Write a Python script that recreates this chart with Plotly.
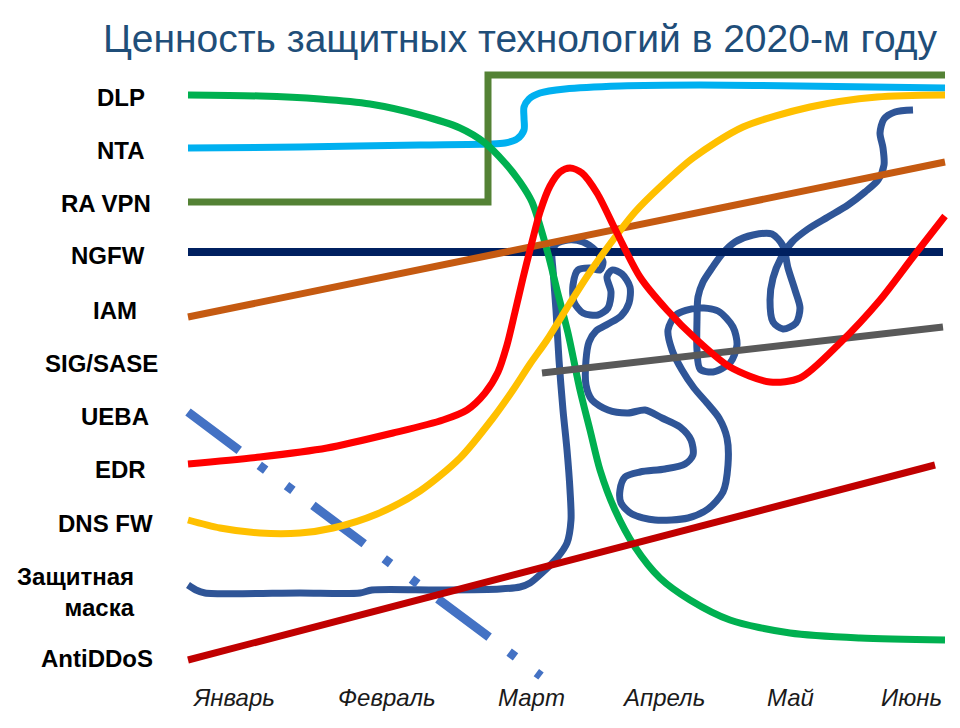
import plotly.graph_objects as go

# ---- axis labels -------------------------------------------------------
MONTHS = ["Январь", "Февраль", "Март", "Апрель", "Май", "Июнь"]
MONTH_POS = [4.5, 19.9, 34.3, 47.5, 60.2, 72.3]

TECH = ["DLP", "NTA", "RA VPN", "NGFW", "IAM", "SIG/SASE", "UEBA",
        "EDR", "DNS FW", "Защитная<br>маска", "AntiDDoS"]
TECH_LEVEL = [57.8, 52.5, 47.2, 42.0, 36.5, 31.2, 25.9, 20.6, 15.2, 8.3, 1.7]

# ---- series (time on x, perceived value on y) --------------------------
dlp_x = [0, 7.2, 13.2, 18.2, 23.2, 27.2, 29.7, 31.7, 33.2, 34.4, 35.9, 36.9,
         38.0, 39.2, 40.2, 41.2, 42.7, 44.7, 47.2, 50.2, 54.2, 60.2, 67.2, 75.7]
dlp_y = [58.0, 57.9, 57.6, 57.1, 56.0, 54.7, 53.2, 51.2, 49.3, 47.3, 42.5, 38.5,
         34.2, 28.5, 24.5, 20.5, 16.5, 12.8, 9.7, 7.5, 5.5, 4.2, 3.7, 3.5]

nta_x = [0, 11.2, 23.2, 30.0, 31.7, 32.9, 33.6, 33.6, 33.6, 34.1, 35.2, 37.7,
         43.2, 51.2, 61.2, 75.7]
nta_y = [52.7, 52.8, 53.0, 53.1, 53.2, 53.6, 54.5, 55.7, 56.8, 57.6, 58.2, 58.6,
         58.9, 59.0, 58.9, 58.7]

ravpn_x = [0, 30.0, 30.0, 75.7]
ravpn_y = [47.3, 47.3, 60.0, 60.0]

ngfw_x = [0, 75.5]
ngfw_y = [42.3, 42.3]

iam_x = [0, 75.7]
iam_y = [35.8, 51.3]

sig_x = [35.4, 75.5]
sig_y = [30.2, 34.8]

ueba_x = [0, 35.3]
ueba_y = [26.3, -0.1]

edr_x = [0, 7.2, 13.9, 20.5, 25.5, 27.9, 29.7, 31.0, 31.9, 32.7, 33.5, 34.2,
         35.2, 36.2, 37.2, 38.2, 39.4, 40.9, 42.9, 45.2, 47.9, 50.9, 54.2, 58.2,
         61.2, 65.2, 69.2, 72.5, 75.7]
edr_y = [21.1, 21.8, 22.7, 24.2, 25.5, 26.5, 28.2, 30.3, 33.0, 36.3, 39.7, 42.5,
         46.3, 48.9, 50.3, 50.7, 50.2, 48.2, 44.2, 39.8, 36.5, 33.5, 30.8, 29.3,
         29.7, 33.2, 37.5, 41.8, 45.9]

dnsfw_x = [0, 3.2, 7.2, 11.2, 14.5, 18.9, 23.2, 27.2, 30.5, 32.5, 34.2, 35.9,
           38.2, 40.2, 42.5, 44.7, 47.2, 50.5, 55.5, 62.2, 68.9, 75.7]
dnsfw_y = [15.5, 14.7, 14.2, 14.2, 14.7, 16.1, 18.4, 21.7, 25.7, 28.5, 31.1, 33.5,
           37.2, 40.3, 43.5, 46.3, 48.8, 51.7, 54.8, 56.8, 57.8, 58.0]

antiddos_x = [0, 74.7]
antiddos_y = [1.5, 21.0]

# protective mask: flat, then a sudden spike into a tangle
mask_x = [0.0, 0.8, 1.7, 11.2, 17.2, 18.4, 25.2, 31.2, 33.2, 34.2, 35.5, 36.9,
          37.9, 38.3, 38.2, 37.9, 37.5, 37.1, 36.8, 36.5, 36.4, 36.8, 38.0, 39.5,
          40.7, 41.5, 41.2, 40.2, 39.0, 38.5, 38.6, 39.5, 41.0, 42.0, 42.3, 41.9,
          42.4, 43.4, 44.2, 44.1, 43.3, 42.0, 40.8, 40.1, 39.8, 39.8, 40.4, 42.0,
          44.0, 45.7, 47.4, 49.2, 50.3, 50.5, 49.7, 47.7, 45.2, 43.7, 43.2, 43.3,
          44.4, 46.7, 50.0, 52.0, 53.5, 54.0, 53.9, 53.1, 51.9, 50.6, 49.4, 48.4,
          48.0, 48.8, 50.9, 53.0, 54.5, 54.9, 54.2, 52.5, 51.2, 50.9, 50.9, 51.0,
          51.5, 52.4, 53.5, 54.7, 56.5, 58.4, 59.5, 60.0, 60.7, 61.2, 60.8, 59.5,
          58.5, 58.2, 58.5, 59.3, 60.4, 62.0, 64.0, 66.0, 67.7, 69.0, 69.6, 69.5,
          69.2, 69.6, 70.7, 72.5]
mask_y = [9.0, 8.5, 8.2, 8.2, 8.2, 8.5, 8.5, 8.6, 8.8, 9.2, 10.3, 11.7,
          13.2, 15.5, 18.5, 22.5, 26.5, 31.5, 36.5, 40.5, 42.3, 43.1, 43.5, 43.3,
          42.5, 41.3, 40.5, 40.7, 40.5, 39.0, 37.3, 36.2, 36.0, 36.7, 38.3, 39.8,
          40.5, 40.1, 38.8, 37.2, 35.9, 35.1, 34.4, 33.3, 31.5, 29.0, 27.5, 26.5,
          26.2, 26.5, 25.7, 24.8, 23.5, 22.0, 21.1, 20.6, 20.3, 19.8, 18.5, 17.2,
          16.1, 15.5, 15.7, 16.6, 18.3, 21.0, 23.7, 25.7, 27.2, 28.7, 30.5, 32.5,
          34.5, 36.0, 36.7, 36.4, 34.8, 33.0, 31.2, 30.3, 30.6, 32.5, 35.5, 37.8,
          39.3, 40.7, 42.2, 43.3, 44.0, 44.1, 42.9, 40.7, 38.5, 36.7, 35.2, 34.6,
          35.3, 37.5, 39.7, 41.7, 43.3, 44.6, 45.8, 47.0, 48.3, 49.5, 51.0, 52.7,
          54.2, 55.6, 56.3, 56.5]

# ---- styling per series (drawing order = stacking order) ---------------
series = [
    (mask_x, mask_y, "#2F5597", 7, "spline", None),
    (ngfw_x, ngfw_y, "#002060", 8, "linear", None),
    (ueba_x, ueba_y, "#4472C4", 9, "linear", "64px,25px,8px,26px,8px,25px"),
    (nta_x, nta_y, "#00B0F0", 7, "spline", None),
    (ravpn_x, ravpn_y, "#548235", 7, "linear", None),
    (dlp_x, dlp_y, "#00B050", 7, "spline", None),
    (iam_x, iam_y, "#C55A11", 7, "linear", None),
    (sig_x, sig_y, "#595959", 7, "linear", None),
    (dnsfw_x, dnsfw_y, "#FFC000", 7, "spline", None),
    (edr_x, edr_y, "#FF0000", 7, "spline", None),
    (antiddos_x, antiddos_y, "#C00000", 7, "linear", None),
]

fig = go.Figure()
for xs, ys, color, width, shape, dash in series:
    line = dict(color=color, width=width, shape=shape)
    if shape == "spline":
        line["smoothing"] = 0.8
    if dash:
        line["dash"] = dash
    fig.add_trace(go.Scatter(x=xs, y=ys, mode="lines", line=line,
                             hoverinfo="skip", showlegend=False))

FONT = "Liberation Sans, Arial, sans-serif"

# technology names on the left, right edges in pixels
LABEL_RIGHT_PX = [147, 147, 153, 147, 139, 160, 151, 148, 155, 137, 155]
PLOT_LEFT = 178
for name, level, right in zip(TECH, TECH_LEVEL, LABEL_RIGHT_PX):
    fig.add_annotation(
        x=0, xref="paper", y=level, yref="y",
        text=f"<b>{name}</b>", showarrow=False,
        xanchor="right", yanchor="middle", align="right",
        xshift=right - PLOT_LEFT,
        font=dict(family=FONT, size=24, color="#000000"),
    )

# month names under the time axis
for month, pos in zip(MONTHS, MONTH_POS):
    fig.add_annotation(
        x=pos, xref="x", y=0, yref="paper",
        text=f"<i>{month}</i>", showarrow=False,
        xanchor="center", yanchor="middle", yshift=-12,
        font=dict(family=FONT, size=24, color="#1a1a1a"),
    )

fig.update_layout(
    width=960, height=728,
    margin=dict(l=PLOT_LEFT, r=12, t=45, b=43, autoexpand=False),
    paper_bgcolor="white", plot_bgcolor="white",
    title=dict(
        text="Ценность защитных технологий в 2020-м году",
        x=520 / 960, xanchor="center", y=1 - 38 / 728, yanchor="middle",
        yref="container",
        font=dict(family=FONT, size=39, color="#1F4E79"),
    ),
    xaxis=dict(
        range=[-1, 76], showgrid=False, zeroline=False, showline=False,
        showticklabels=False, ticks="", automargin=False, fixedrange=True,
    ),
    yaxis=dict(
        range=[-1, 63], showgrid=False, zeroline=False, showline=False,
        showticklabels=False, ticks="", automargin=False, fixedrange=True,
    ),
    hovermode=False,
)

fig.write_html("out.html")
